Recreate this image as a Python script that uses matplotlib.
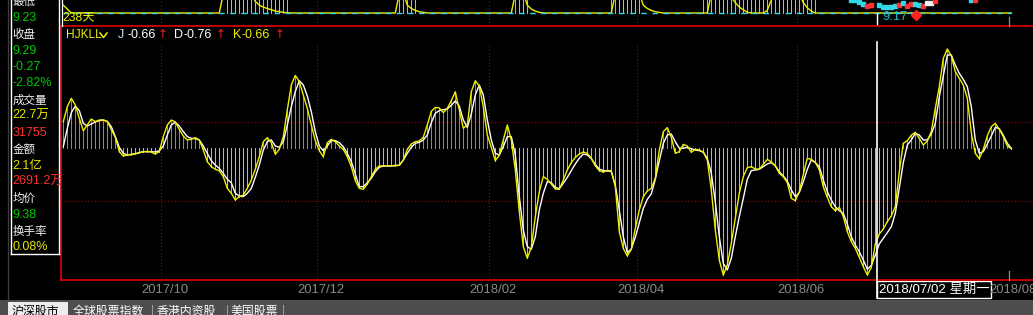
import matplotlib
matplotlib.use("Agg")
import matplotlib.pyplot as plt
from matplotlib.lines import Line2D
from matplotlib.patches import Rectangle
import numpy as np

W, H = 1033, 315

# ---------------- data ----------------
# K (yellow) line, one value per trading day (238 days)
k_line = [
    0.197, 0.308, 0.371, 0.321, 0.221, 0.129, 0.172, 0.216, 0.197, 0.209,
    0.209, 0.197, 0.139, 0.080, -0.027, -0.060, -0.052, -0.050, -0.045, -0.035,
    -0.027, -0.027, -0.030, -0.045, -0.027, 0.085, 0.172, 0.209, 0.194, 0.139,
    0.090, 0.060, 0.065, 0.077, 0.060, -0.015, -0.102, -0.139, -0.159, -0.169,
    -0.214, -0.301, -0.338, -0.388, -0.363, -0.351, -0.301, -0.239, -0.159, -0.065,
    0.047, 0.077, 0.040, -0.047, -0.010, 0.085, 0.284, 0.470, 0.542, 0.495,
    0.396, 0.296, 0.172, 0.055, -0.020, -0.065, 0.040, 0.065, 0.047, 0.015,
    -0.010, -0.065, -0.139, -0.244, -0.301, -0.308, -0.269, -0.214, -0.159, -0.134,
    -0.134, -0.134, -0.132, -0.134, -0.129, -0.090, -0.010, 0.030, 0.047, 0.052,
    0.080, 0.172, 0.274, 0.303, 0.299, 0.264, 0.296, 0.353, 0.420, 0.284,
    0.147, 0.172, 0.420, 0.502, 0.463, 0.308, 0.097, 0.005, -0.095, -0.052,
    0.060, 0.172, 0.060, -0.164, -0.475, -0.736, -0.823, -0.741, -0.512, -0.326,
    -0.214, -0.234, -0.269, -0.306, -0.308, -0.239, -0.164, -0.109, -0.070, -0.045,
    -0.030, -0.040, -0.077, -0.134, -0.169, -0.179, -0.169, -0.169, -0.289, -0.624,
    -0.749, -0.806, -0.756, -0.600, -0.463, -0.363, -0.321, -0.301, -0.226, -0.015,
    0.122, 0.152, 0.080, -0.040, -0.027, 0.027, 0.015, -0.032, -0.010, -0.015,
    -0.030, -0.090, -0.313, -0.612, -0.836, -0.948, -0.873, -0.711, -0.525, -0.338,
    -0.214, -0.147, -0.139, -0.157, -0.157, -0.122, -0.085, -0.104, -0.134, -0.189,
    -0.214, -0.259, -0.376, -0.393, -0.326, -0.197, -0.077, -0.085, -0.107, -0.164,
    -0.289, -0.368, -0.438, -0.468, -0.443, -0.512, -0.624, -0.699, -0.749, -0.816,
    -0.886, -0.948, -0.891, -0.716, -0.642, -0.604, -0.550, -0.507, -0.438, -0.177,
    0.035, 0.055, 0.095, 0.117, 0.072, 0.022, 0.052, 0.122, 0.296, 0.458,
    0.669, 0.739, 0.687, 0.570, 0.520, 0.470, 0.371, 0.114, -0.040, -0.080,
    -0.010, 0.090, 0.159, 0.184, 0.139, 0.085, 0.015, -0.005,
]
# D (white) line
d_line = [
    0.010, 0.147, 0.264, 0.313, 0.279, 0.184, 0.164, 0.179, 0.194, 0.204,
    0.209, 0.199, 0.159, 0.085, 0.005, -0.040, -0.052, -0.047, -0.042, -0.035,
    -0.027, -0.027, -0.027, -0.030, -0.020, 0.015, 0.097, 0.172, 0.192, 0.164,
    0.122, 0.085, 0.072, 0.070, 0.060, 0.015, -0.040, -0.095, -0.127, -0.152,
    -0.189, -0.234, -0.259, -0.338, -0.358, -0.363, -0.338, -0.301, -0.219, -0.127,
    -0.015, 0.047, 0.060, 0.015, 0.005, 0.047, 0.172, 0.308, 0.420, 0.502,
    0.470, 0.388, 0.271, 0.122, 0.015, -0.020, 0.015, 0.055, 0.055, 0.040,
    0.010, -0.040, -0.102, -0.194, -0.289, -0.289, -0.259, -0.226, -0.177, -0.144,
    -0.134, -0.134, -0.134, -0.129, -0.129, -0.090, -0.040, 0.005, 0.035, 0.042,
    0.060, 0.097, 0.189, 0.259, 0.279, 0.286, 0.291, 0.318, 0.351, 0.313,
    0.209, 0.154, 0.254, 0.396, 0.470, 0.396, 0.209, 0.060, -0.040, -0.052,
    0.010, 0.085, 0.085, -0.052, -0.363, -0.612, -0.736, -0.756, -0.662, -0.463,
    -0.338, -0.251, -0.259, -0.294, -0.303, -0.264, -0.219, -0.169, -0.119, -0.077,
    -0.045, -0.052, -0.080, -0.122, -0.157, -0.169, -0.169, -0.177, -0.276, -0.463,
    -0.662, -0.781, -0.754, -0.667, -0.557, -0.450, -0.383, -0.343, -0.234, -0.095,
    0.035, 0.097, 0.104, 0.047, -0.002, -0.002, 0.005, -0.005, -0.015, -0.020,
    -0.032, -0.077, -0.189, -0.400, -0.662, -0.861, -0.910, -0.823, -0.662, -0.512,
    -0.376, -0.234, -0.169, -0.164, -0.159, -0.139, -0.119, -0.109, -0.132, -0.177,
    -0.209, -0.246, -0.313, -0.363, -0.333, -0.251, -0.159, -0.090, -0.109, -0.139,
    -0.239, -0.326, -0.388, -0.438, -0.468, -0.488, -0.567, -0.662, -0.724, -0.774,
    -0.836, -0.905, -0.876, -0.799, -0.716, -0.674, -0.632, -0.587, -0.488, -0.301,
    -0.109, 0.022, 0.060, 0.109, 0.097, 0.060, 0.060, 0.104, 0.184, 0.383,
    0.537, 0.694, 0.694, 0.619, 0.557, 0.512, 0.458, 0.308, 0.060, -0.040,
    -0.027, 0.030, 0.090, 0.154, 0.144, 0.095, 0.035, -0.002,
]

month_labels = ["2017/10", "2017/12", "2018/02", "2018/04", "2018/06", "2018/08"]
month_bounds = [24.5, 63.5, 106.5, 143.5, 183.5, 236.5]
hgrid_vals = [0.192, -0.398]
cross_idx = 203.5
cross_date = "2018/07/02 星期一"

legend_name = "HJKLL"
legend_items = [("J", "-0.66"), ("D", "-0.76"), ("K", "-0.66")]

# upper (cropped) panel
top_bar_idx = [41, 42, 43, 44, 45, 46, 47, 48, 49, 50, 51, 52, 53, 54, 55, 56,
               84, 85, 86, 87, 88, 113, 114, 115, 116,
               137, 138, 139, 140, 141, 142, 143, 144,
               160, 161, 162, 163, 164, 165, 166, 167, 168, 169, 170, 171, 172, 173,
               174, 175, 176, 177, 178, 179, 180, 181, 182, 183, 184, 185, 186, 187, 188]
top_line_idx = [0, 2, 39, 40, 47, 48, 49, 50, 51, 52, 53, 54, 55, 57,
                83, 84, 85, 86, 87, 88, 89, 90, 91,
                112, 113, 115, 116, 117, 118, 119, 120,
                137, 138, 144, 145, 146, 147, 148, 149, 150,
                161, 162, 167, 168, 169, 170, 171, 172, 175, 176, 177, 178, 184, 185,
                186, 187, 188, 237]
top_line_val = [0.6, 0, 0, 1.5, 1.5, 0.9, 0.6, 0.45, 0.35, 0.25, 0.15, 0.1, 0.05, 0,
                0, 1.5, 1.5, 0.6, 0.35, 0.2, 0.1, 0.05, 0,
                0, 1.5, 1.5, 0.6, 0.3, 0.15, 0.05, 0,
                0, 1.5, 1.5, 0.6, 0.35, 0.2, 0.1, 0.05, 0,
                0, 1.5, 1.2, 0.8, 0.45, 0.25, 0.05, 0, 0, 0.2, 1.0, 1.5, 1.5, 0.8,
                0.4, 0.15, 0, 0]
candle_idx = [197, 198, 199, 200, 201, 202, 204, 205, 206, 207, 208, 209, 210,
              211, 212, 213, 214, 215, 216, 217, 218, 227, 228]
candle_val = [0.97, 0.97, 0.87, 0.69, 0.56, 0.59, 0.59, 0.49, 0.49, 0.49, 0.54,
              0.64, 0.74, 0.56, 0.69, 0.67, 0.62, 0.56, 0.77, 0.77, 0.92, 1.0, 1.0]
candle_up = ["c", "c", "c", "c", "r", "r", "c", "c", "c", "c", "c", "r", "c",
             "r", "r", "c", "c", "r", "w", "w", "r", "c", "r"]
top_days_label = "238天"
low_label = "9.17"

side_labels = ["最低", "9.23", "收盘", "9.29", "-0.27", "-2.82%", "成交量", "22.7万",
               "31755", "金额", "2.1亿", "2691.2万", "均价", "9.38", "换手率", "0.08%"]
side_colors = ["w", "g", "w", "g", "g", "g", "w", "y", "r", "w", "y", "r", "w", "g", "w", "y"]
tabs = ["沪深股市", "全球股票指数", "香港内资股", "美国股票"]

# ---------------- style ----------------
BG = "#000000"
RED = "#e00000"
GRID = "#a00000"
YEL = "#f0f000"
WHT = "#ffffff"
BAR_UP = "#ff5555"
BAR_DN = "#3ce4f0"
CYAN = "#30d8e8"
cmap = {"w": "#f0f0f0", "g": "#00c800", "y": "#e6e600", "r": "#ff3030", "c": "#30d8e8"}

plt.rcParams["font.family"] = ["Liberation Sans", "Noto Sans CJK SC", "DejaVu Sans"]
FONT = ["Liberation Sans", "Noto Sans CJK SC", "DejaVu Sans"]
CJK = ["Noto Sans CJK SC", "Liberation Sans", "DejaVu Sans"]

fig = plt.figure(figsize=(W / 100, H / 100), dpi=100, facecolor=BG)


def fx(x):
    return x / W


def fy(y):
    return 1 - y / H


def hline(x0, x1, y, color, lw=0.75, ls="-"):
    fig.add_artist(Line2D([fx(x0), fx(x1)], [fy(y), fy(y)], color=color, lw=lw, ls=ls))


def vline(x, y0, y1, color, lw=0.75, ls="-"):
    fig.add_artist(Line2D([fx(x), fx(x)], [fy(y0), fy(y1)], color=color, lw=lw, ls=ls))


x0_idx = (61 - 63.3) / 4
x1_idx = (1033 - 63.3) / 4

# ---------------- main indicator panel ----------------
ax = fig.add_axes([fx(61), fy(280), 972 / W, 254 / H])
ax.set_facecolor(BG)
ax.set_xlim(x0_idx, x1_idx)
ax.set_ylim((148 - 280) / 134, (148 - 26) / 134)
ax.axis("off")

idx = np.arange(len(k_line))
k = np.array(k_line)
d = np.array(d_line)

for b in month_bounds[:-1]:
    ax.axvline(b, ymin=0, ymax=(280 - 43) / 254, color=GRID, lw=0.8, ls=(0, (1, 2)))
for v in hgrid_vals:
    ax.axhline(v, color=GRID, lw=0.8, ls=(0, (1, 2)))

bar_cols = [BAR_UP if v > 0 else BAR_DN for v in k]
ax.vlines(idx, 0, k, colors=bar_cols, lw=0.5, antialiased=False)
ax.plot(idx, d, color=WHT, lw=1.0)
ax.plot(idx, k, color=YEL, lw=1.0)

# ---------------- upper cropped panel ----------------
axt = fig.add_axes([fx(61), fy(26), 972 / W, 26 / H])
axt.set_facecolor(BG)
axt.set_xlim(x0_idx, x1_idx)
axt.set_ylim(-1, 1)
axt.axis("off")
for b in month_bounds[:-1]:
    axt.axvline(b, color=GRID, lw=0.8, ls=(0, (1, 2)))
axt.vlines(top_bar_idx, 0, 2, colors=BAR_DN, lw=0.5, antialiased=False)
axt.plot(top_line_idx, top_line_val, color=YEL, lw=1.0)
axt.plot([0, len(k_line) - 1], [0, 0], color=CYAN, lw=1.0, ls=(0, (4, 4)))
for i, v, c in zip(candle_idx, candle_val, candle_up):
    axt.plot([i], [v], marker="s", ms=2.4, color=cmap[c], mec=cmap[c])
axt.plot([(916 - 63.3) / 4], [(13 - 15) / 13], marker="D", ms=5, color="#ff2020")
axt.axvline(cross_idx, ymin=0.0, ymax=0.5, color=WHT, lw=1.0)

# ---------------- frames ----------------
hline(61, 1033, 26, RED, lw=1.2)
hline(61, 1033, 280, RED, lw=1.2)
vline(61, 26, 280, RED, lw=1.2)
vline(62, 0, 26, WHT, lw=0.9)
vline(1009, 17, 26, "#909090", lw=0.9)
vline(1009, 271, 280, "#909090", lw=0.9)

# crosshair
vline(877.3, 42, 298, WHT, lw=1.2)
fig.add_artist(Rectangle((fx(877), fy(298)), 114 / W, 17 / H, transform=fig.transFigure,
                         facecolor=BG, edgecolor=WHT, lw=1.0))
fig.text(fx(879), fy(289.5), cross_date, color=WHT, fontsize=9.6, ha="left", va="center",
         family=FONT)

# month labels
for lab, b in zip(month_labels, month_bounds):
    xpix = 63.3 + 4 * (b + 0.9)
    fig.text(fx(xpix), fy(290), lab, color="#8a8a8a", fontsize=9.4, ha="center",
             va="center", family=FONT)

# legend
fig.text(fx(66), fy(35), legend_name, color=YEL, fontsize=8.6, ha="left", va="center",
         family=FONT)
fig.add_artist(Line2D([fx(100), fx(103.5), fx(107)], [fy(33), fy(37.5), fy(33)],
                      color=YEL, lw=1.1))
leg_x = [118, 174, 233]
leg_arrow_x = [158, 216, 275]
leg_col = [("#c8e4ff", WHT), (WHT, WHT), (YEL, YEL)]
for (name, val), x, ax_x, (c1, c2) in zip(legend_items, leg_x, leg_arrow_x, leg_col):
    fig.text(fx(x), fy(35), name, color=c1, fontsize=9, ha="left", va="center", family=FONT)
    fig.text(fx(x + 9), fy(35), val, color=c2, fontsize=9, ha="left", va="center", family=FONT)
    fig.text(fx(ax_x), fy(35), "↑", color="#ff2020", fontsize=8.5, ha="left", va="center",
             family=["DejaVu Sans"])

# upper panel texts
fig.text(fx(62), fy(17), top_days_label, color=YEL, fontsize=8.8, ha="left", va="center",
         family=FONT)
fig.text(fx(882), fy(17), low_label, color="#20b8c8", fontsize=9.4, ha="left", va="center",
         family=FONT)

# ---------------- left info box ----------------
vline(11, 0, 254, WHT, lw=1.0)
vline(59, 0, 254, WHT, lw=1.0)
hline(11, 59, 254, WHT, lw=1.0)
vline(8, 0, 300, "#3c3c3c", lw=1.0)
for n, (lab, c) in enumerate(zip(side_labels, side_colors)):
    yc = 1.5 + 16.4 * n
    cjk_head = lab[0] in "最收成金均换"
    fig.text(fx(12.5), fy(yc), lab, color=cmap[c], fontsize=(8.3 if cjk_head else 9),
             ha="left", va="center", family=(CJK if cjk_head else FONT))

# ---------------- bottom tab bar ----------------
fig.add_artist(Rectangle((0, 0), 1, 15 / H, transform=fig.transFigure,
                         facecolor="#4e4e4e", edgecolor="none"))
fig.add_artist(Rectangle((fx(8), 0), 60 / W, 13 / H, transform=fig.transFigure,
                         facecolor="#ececec", edgecolor="none"))
tab_x = [12, 73, 157, 230]
for t, x in zip(tabs, tab_x):
    fig.text(fx(x), fy(311), t, color=("#000000" if t == tabs[0] else WHT), fontsize=8.6,
             ha="left", va="center", family=CJK)
for x in [151, 226, 282]:
    fig.text(fx(x), fy(311), "|", color="#9a9a9a", fontsize=8.6, ha="left", va="center",
             family=FONT)

fig.savefig("out.png", dpi=100, facecolor=BG)
